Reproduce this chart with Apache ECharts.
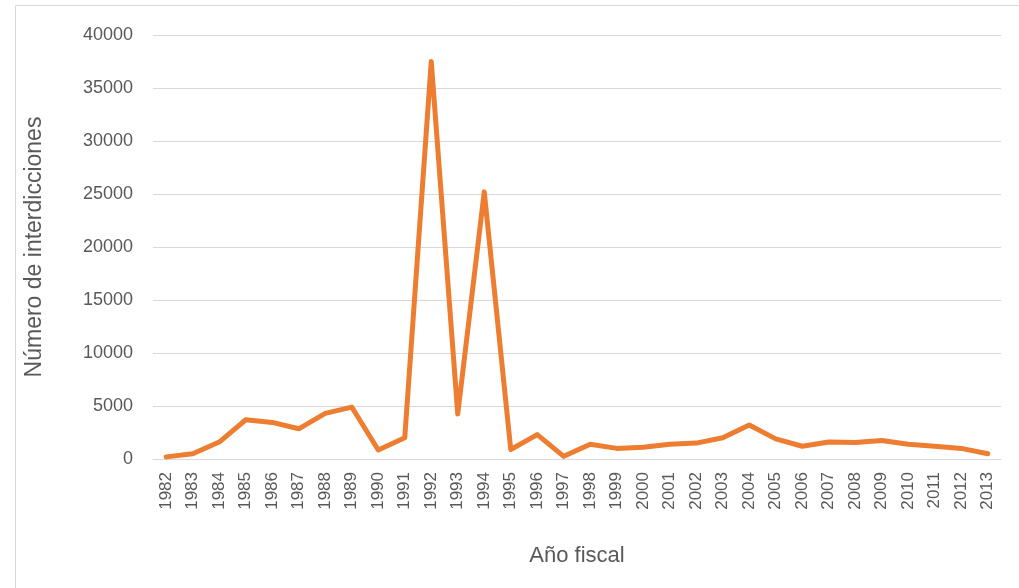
<!DOCTYPE html>
<html>
<head>
<meta charset="utf-8">
<script src="https://cdn.jsdelivr.net/npm/echarts@6/dist/echarts.min.js"></script>
<style>
  html, body { margin: 0; padding: 0; background: #fff; }
  #chart { width: 1019px; height: 588px; }
</style>
</head>
<body>
<div id="chart"></div>
<script>
var years = ['1982', '1983', '1984', '1985', '1986', '1987', '1988', '1989', '1990', '1991',
    '1992', '1993', '1994', '1995', '1996', '1997', '1998', '1999', '2000', '2001',
    '2002', '2003', '2004', '2005', '2006', '2007', '2008', '2009', '2010', '2011',
    '2012', '2013'];
var interdicciones = [200, 500, 1600, 3700, 3450, 2850, 4300, 4900, 850, 2000,
    37500, 4250, 25200, 900, 2300, 250, 1400, 1000, 1100, 1400,
    1500, 2000, 3200, 1900, 1200, 1600, 1550, 1750, 1400, 1200,
    1000, 500];
var yTicks = [0, 5000, 10000, 15000, 20000, 25000, 30000, 35000, 40000];

var chart = echarts.init(document.getElementById('chart'));
var font = 'Liberation Sans';
chart.setOption({
    animation: false,
    textStyle: { fontFamily: font },
    graphic: [{
        type: 'rect',
        shape: { x: 15.5, y: 5.5, width: 1010, height: 590 },
        style: { fill: 'none', stroke: '#d9d9d9', lineWidth: 1 }
    }],
    grid: { left: 153, right: 18, top: 35, bottom: 129 },
    xAxis: {
        type: 'category',
        data: years,
        name: 'Año fiscal',
        nameLocation: 'middle',
        nameGap: 86,
        nameTextStyle: { color: '#595959', fontSize: 22, fontFamily: font },
        axisLine: { lineStyle: { color: '#d9d9d9', width: 1 } },
        axisTick: { show: false },
        axisLabel: { rotate: 90, color: '#595959', fontSize: 17, margin: 13, interval: 0 }
    },
    yAxis: {
        type: 'value',
        min: yTicks[0],
        max: yTicks[yTicks.length - 1],
        interval: 5000,
        name: 'Número de interdicciones',
        nameLocation: 'middle',
        nameGap: 107,
        nameTextStyle: { color: '#595959', fontSize: 23, fontFamily: font },
        axisLine: { show: false },
        axisTick: { show: false },
        axisLabel: {
            color: '#595959', fontSize: 18, margin: 20,
            formatter: function (v) { return String(v); }
        },
        splitLine: { lineStyle: { color: '#d9d9d9', width: 1 } }
    },
    series: [{
        name: 'Interdicciones',
        type: 'line',
        data: interdicciones,
        symbol: 'none',
        lineStyle: { color: '#ed7d31', width: 5, join: 'round', cap: 'round' },
        itemStyle: { color: '#ed7d31' }
    }]
});
</script>
</body>
</html>
